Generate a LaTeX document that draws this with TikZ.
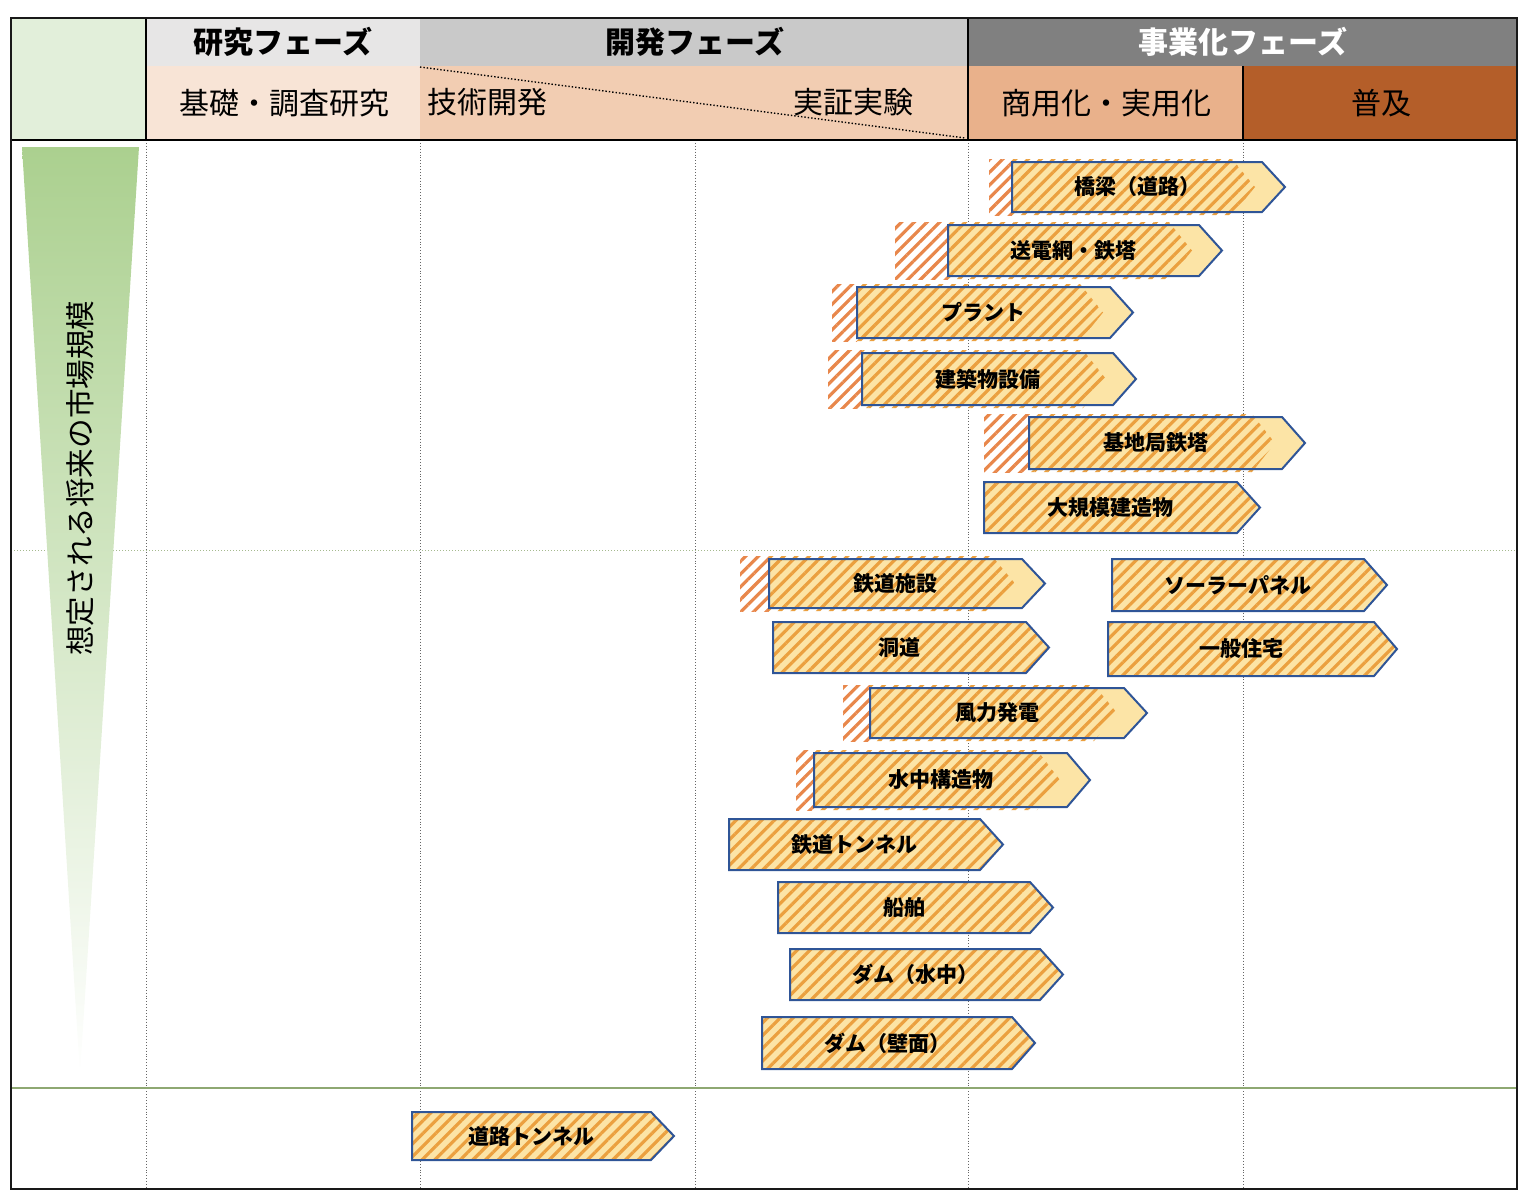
\documentclass[tikz,border=0pt]{standalone}
\usepackage{fontspec}
\setmainfont{Noto Sans CJK JP}
\usetikzlibrary{patterns.meta}

\definecolor{greenhead}{HTML}{E2EFDA}
\definecolor{greyone}{HTML}{E7E6E6}
\definecolor{greytwo}{HTML}{C9C9C9}
\definecolor{greythree}{HTML}{808080}
\definecolor{peachone}{HTML}{F8E4D6}
\definecolor{peachtwo}{HTML}{F2CDB2}
\definecolor{peachthree}{HTML}{E9B18B}
\definecolor{brownfour}{HTML}{B45E29}
\definecolor{barfill}{HTML}{FCE4A6}
\definecolor{barstripe}{HTML}{EBA03F}
\definecolor{tailstripe}{HTML}{E8874B}
\definecolor{barframe}{HTML}{2F5597}
\definecolor{gridgreen}{HTML}{8EA872}
\definecolor{wedgetop}{HTML}{ABD08F}
\definecolor{wedgemid}{HTML}{D3E6C3}

\tikzset{
  headbig/.style={font=\bfseries\fontsize{15}{18}\selectfont},
  headsmall/.style={font=\fontsize{15}{18}\selectfont},
  barlabel/.style={font=\bfseries\fontsize{10.5}{12}\selectfont},
  barline/.style={draw=barframe, line width=1pt},
  barhatch/.style={pattern={Lines[angle=45,distance=4.5pt,line width=1.6pt]}, pattern color=barstripe},
  tailhatch/.style={pattern={Lines[angle=45,distance=4.5pt,line width=1.6pt]}, pattern color=tailstripe},
  gridline/.style={densely dotted, draw=black!60, line width=0.45pt},
}

% bar with a hatched tail: name, tail, left, tip, top, bottom, text
\newcommand\tailbar[7]{%
  \fill[barfill] (#3,#5) -- ({#4-23},#5) -- (#4,{(#5+#6)/2}) -- ({#4-23},#6) -- (#3,#6) -- cycle;
  \fill[tailhatch] (#2,{#5-3}) rectangle (#3,{#6+3});
  \fill[barhatch] (#3,{#5-3}) -- ({#4-53},{#5-3}) -- ({#4-30},{(#5+#6)/2}) -- ({#4-53},{#6+3}) -- (#3,{#6+3}) -- cycle;
  \draw[barline] (#3,#5) -- ({#4-23},#5) -- (#4,{(#5+#6)/2}) -- ({#4-23},#6) -- (#3,#6) -- cycle;
  \node[barlabel] (#1) at ({(#3+#4-23)/2},{(#5+#6)/2}) {#7};
}
% fully hatched bar: name, left, tip, top, bottom, text
\newcommand\fullbar[6]{%
  \draw[barline, barhatch, preaction={fill=barfill}] (#2,#4) -- ({#3-23},#4) -- (#3,{(#4+#5)/2}) -- ({#3-23},#5) -- (#2,#5) -- cycle;
  \node[barlabel] (#1) at ({(#2+#3-23)/2},{(#4+#5)/2}) {#6};
}

\begin{document}
\begin{tikzpicture}[x=0.5pt, y=-0.5pt]
\useasboundingbox (0,0) rectangle (1528,1200);

% header cells
\fill[greenhead] (11,18) rectangle (146,140);
\fill[greyone] (146,18) rectangle (420,66);
\fill[greytwo] (420,18) rectangle (968,66);
\fill[greythree] (968,18) rectangle (1517,66);
\fill[peachone] (146,66) rectangle (420,140);
\fill[peachtwo] (420,66) rectangle (968,140);
\fill[peachthree] (968,66) rectangle (1243,140);
\fill[brownfour] (1243,66) rectangle (1517,140);
\draw[densely dotted, line width=0.7pt] (420,67) -- (965,138);

\node[headbig] (kenkyu) at (283,42) {研究フェーズ};
\node[headbig] (kaihatsu) at (695,42) {開発フェーズ};
\node[headbig, text=white] (jigyo) at (1243,42) {事業化フェーズ};
\node[headsmall] (kiso) at (284,103) {基礎・調査研究};
\node[headsmall, anchor=west] (gijutsu) at (420,102) {技術開発};
\node[headsmall] (jissho) at (853,102) {実証実験};
\node[headsmall] (shoyo) at (1106,103) {商用化・実用化};
\node[headsmall] (fukyu) at (1381,103) {普及};

% grid
\foreach \x in {146,420,695,968,1243}
  \draw[gridline] (\x,140) -- (\x,1189);
\draw[densely dotted, draw=gridgreen!80, line width=0.5pt] (11,550) -- (1517,550);
\draw[draw=gridgreen, line width=0.8pt] (11,1088) -- (1517,1088);
\draw[line width=0.8pt] (146,18) -- (146,140);
\draw[line width=0.8pt] (968,18) -- (968,140);
\draw[line width=0.8pt] (1243,66) -- (1243,140);
\draw[line width=0.8pt] (11,140) -- (1517,140);
\draw[line width=1.1pt, draw=black!90] (11,18) rectangle (1517,1189);

% market size wedge
\shade[top color=wedgetop, middle color=wedgemid, bottom color=white]
  (22,147) -- (139,147) -- (80,1075) -- cycle;
\node[rotate=90, font=\fontsize{14.8}{16}\selectfont] (shijo) at (80,478) {想定される将来の市場規模};

% bars
\tailbar{kyoryo}{989}{1012}{1285}{162}{212}{橋梁（道路）}
\tailbar{soden}{895}{948}{1222}{225}{276}{送電網・鉄塔}
\tailbar{plant}{832}{857}{1133}{287}{338}{プラント}
\tailbar{kenchiku}{828}{862}{1136}{353}{405}{建築物設備}
\tailbar{kichikyoku}{984}{1029}{1305}{417}{469}{基地局鉄塔}
\fullbar{daikibo}{984}{1260}{482}{533}{大規模建造物}
\tailbar{tetsudo}{740}{769}{1045}{559}{608}{鉄道施設}
\fullbar{solar}{1112}{1387}{559}{611}{ソーラーパネル}
\fullbar{dodo}{773}{1049}{622}{673}{洞道}
\fullbar{jutaku}{1108}{1397}{622}{676}{一般住宅}
\tailbar{furyoku}{843}{870}{1147}{688}{738}{風力発電}
\tailbar{suichu}{796}{814}{1090}{753}{807}{水中構造物}
\fullbar{tunnel}{729}{1003}{819}{870}{鉄道トンネル}
\fullbar{senpaku}{778}{1053}{882}{933}{船舶}
\fullbar{damsui}{790}{1063}{949}{1000}{ダム（水中）}
\fullbar{damheki}{762}{1035}{1017}{1069}{ダム（壁面）}
\fullbar{doro}{412}{674}{1112}{1160}{道路トンネル}
\end{tikzpicture}
\end{document}
